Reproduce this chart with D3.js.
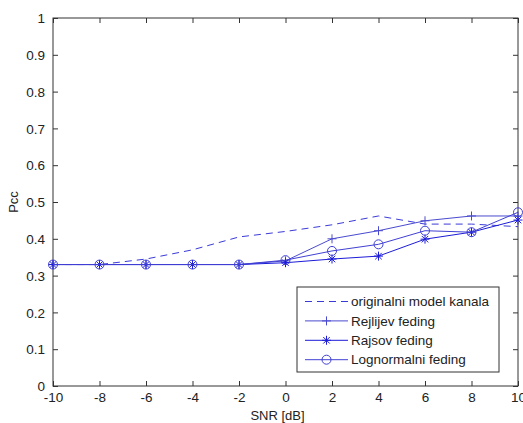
<!DOCTYPE html>
<html><head><meta charset="utf-8">
<script src="https://cdn.jsdelivr.net/npm/d3@7"></script>
<style>body{margin:0;background:#fff}svg{display:block}text{font-family:"Liberation Sans",Arial,sans-serif;fill:#222}</style>
</head><body><svg id="c" width="523" height="423"></svg>
<script>
const snr = [-10,-8,-6,-4,-2,0,2,4,6,8,10];
const original = [0.33,0.33,0.345,0.37,0.405,0.42,0.438,0.462,0.44,0.44,0.433];
const rejlijev = [0.33,0.33,0.33,0.33,0.33,0.34,0.40,0.422,0.449,0.462,0.462];
const rajsov = [0.33,0.33,0.33,0.33,0.33,0.335,0.345,0.353,0.399,0.418,0.451];
const lognormal = [0.33,0.33,0.33,0.33,0.33,0.342,0.367,0.385,0.422,0.418,0.472];
const xTicks = [-10,-8,-6,-4,-2,0,2,4,6,8,10];
const yTicks = [0,0.1,0.2,0.3,0.4,0.5,0.6,0.7,0.8,0.9,1];
const names = ["originalni model kanala","Rejlijev feding","Rajsov feding","Lognormalni feding"];

const L=53,R=518,T=18,B=386;
const svg=d3.select("#c");
const x=d3.scaleLinear().domain([-10,10]).range([L,R]);
const y=d3.scaleLinear().domain([0,1]).range([B,T]);
const axCol="#333";

const series=[
 {name:names[0],v:original,dash:"7,5",marker:null,color:"#3a3ad8"},
 {name:names[1],v:rejlijev,dash:null,marker:"plus",color:"#4a4ad0"},
 {name:names[2],v:rajsov,dash:null,marker:"star",color:"#1c1cd8"},
 {name:names[3],v:lognormal,dash:null,marker:"circle",color:"#4040d4"}
];

function drawMarker(g,type,cx,cy,c){
  const s=4.5;
  if(type==="plus"){
    g.append("path").attr("d",`M${cx-s},${cy}H${cx+s}M${cx},${cy-s}V${cy+s}`).attr("stroke",c).attr("stroke-width",1).attr("fill","none");
  } else if(type==="star"){
    const d=s*0.72;
    g.append("path").attr("d",`M${cx-s},${cy}H${cx+s}M${cx},${cy-s}V${cy+s}M${cx-d},${cy-d}L${cx+d},${cy+d}M${cx-d},${cy+d}L${cx+d},${cy-d}`).attr("stroke",c).attr("stroke-width",1).attr("fill","none");
  } else if(type==="circle"){
    g.append("circle").attr("cx",cx).attr("cy",cy).attr("r",4.5).attr("stroke",c).attr("stroke-width",1).attr("fill","none");
  }
}

svg.append("rect").attr("x",L).attr("y",T).attr("width",R-L).attr("height",B-T).attr("fill","#fff").attr("stroke",axCol).attr("stroke-width",1);

const gx=svg.append("g").attr("transform",`translate(0,${B})`)
 .call(d3.axisBottom(x).tickValues(xTicks).tickSize(-5).tickPadding(8).tickFormat(d=>String(d)));
const gxt=svg.append("g").attr("transform",`translate(0,${T})`)
 .call(d3.axisTop(x).tickValues(xTicks).tickSize(-5).tickFormat(""));
const gy=svg.append("g").attr("transform",`translate(${L},0)`)
 .call(d3.axisLeft(y).tickValues(yTicks).tickSize(-5).tickPadding(8).tickFormat(d=>String(+d.toFixed(1))));
const gyr=svg.append("g").attr("transform",`translate(${R},0)`)
 .call(d3.axisRight(y).tickValues(yTicks).tickSize(-5).tickFormat(""));
[gx,gxt,gy,gyr].forEach(g=>{g.select(".domain").remove();g.selectAll("line").attr("stroke",axCol);g.selectAll("text").attr("font-size",13.5).attr("fill","#222").attr("font-family","Liberation Sans, Arial, sans-serif");});
gx.selectAll("text").attr("dy","0.6em");
gy.selectAll("text").attr("dy","0.35em");

const line=d3.line().x((d,i)=>x(snr[i])).y(d=>y(d));
const plot=svg.append("g");
series.forEach(s=>{
  plot.append("path").datum(s.v).attr("d",line).attr("fill","none").attr("stroke",s.color).attr("stroke-width",1).attr("stroke-dasharray",s.dash);
  if(s.marker){s.v.forEach((v,i)=>drawMarker(plot,s.marker,x(snr[i]),y(v),s.color));}
});

const lg=svg.append("g");
lg.append("rect").attr("x",297).attr("y",287).attr("width",202).attr("height",85).attr("fill","#fff").attr("stroke",axCol).attr("stroke-width",1);
series.forEach((s,i)=>{
  const yy=301.5+i*19.4;
  lg.append("line").attr("x1",305).attr("x2",348).attr("y1",yy).attr("y2",yy).attr("stroke",s.color).attr("stroke-width",1).attr("stroke-dasharray",s.dash);
  if(s.marker) drawMarker(lg,s.marker,326.5,yy,s.color);
  lg.append("text").attr("x",351).attr("y",yy).attr("dy","0.35em").attr("font-size",13.5).text(s.name);
});

svg.append("text").attr("x",(L+R)/2-8).attr("y",420).attr("text-anchor","middle").attr("font-size",13).text("SNR [dB]");
svg.append("text").attr("transform",`translate(18,${(T+B)/2}) rotate(-90)`).attr("text-anchor","middle").attr("font-size",13).text("Pcc");
</script></body></html>
